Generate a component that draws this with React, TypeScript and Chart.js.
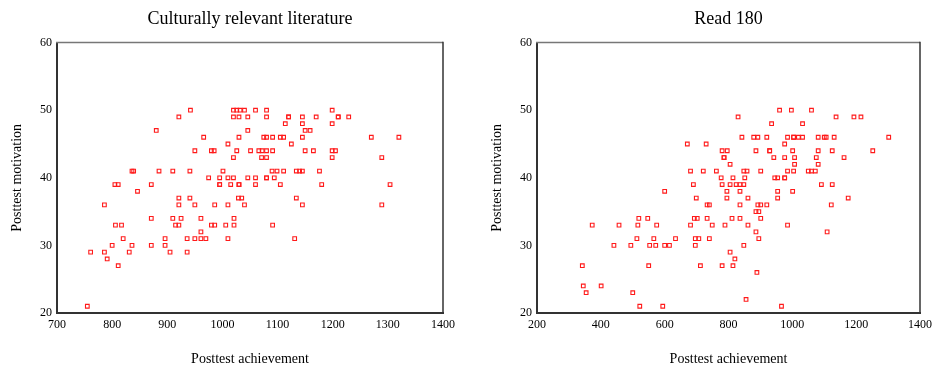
import React, { useEffect, useRef } from "react";
import { Chart, registerables } from "chart.js";

Chart.register(...registerables);

const FONT = "'Liberation Serif', 'Times New Roman', Times, serif";

// Culturally relevant literature: posttest achievement (x) and posttest motivation (y)
const crlAchievement = [
  942, 1020, 1026, 1032, 1040, 1060, 1080, 1199,
  921, 1020, 1030, 1046, 1080, 1120, 1120, 1145, 1170, 1210, 1210, 1229,
  1114, 1145, 1199,
  880, 1046, 1150, 1159,
  966, 1030, 1075, 1080, 1091, 1105, 1111, 1145, 1270, 1320,
  1010, 1125,
  950, 980, 985, 1026, 1051, 1066, 1072, 1080, 1091, 1150, 1165, 1199, 1205,
  1020, 1071, 1080, 1199, 1289,
  836, 839, 885, 910, 941, 1001, 1090, 1099, 1111, 1134, 1140, 1145, 1176,
  975, 995, 1010, 1020, 1046, 1060, 1080, 1080, 1094,
  805, 811, 871, 995, 995, 1015, 1030, 1030, 1060, 1105, 1180, 1304,
  846,
  921, 941, 1029, 1035, 1134,
  786, 921, 950, 986, 1010, 1040, 1145, 1289,
  871, 910, 925, 961, 1021,
  806, 817, 915, 921, 980, 986, 1006, 1021, 1091,
  961,
  820, 896, 936, 950, 961, 970, 1010, 1131,
  800, 836, 871, 896,
  761, 786, 831, 905, 936,
  791,
  811,
  755,
];
const crlMotivation = [
  50, 50, 50, 50, 50, 50, 50, 50,
  49, 49, 49, 49, 49, 49, 49, 49, 49, 49, 49, 49,
  48, 48, 48,
  47, 47, 47, 47,
  46, 46, 46, 46, 46, 46, 46, 46, 46, 46,
  45, 45,
  44, 44, 44, 44, 44, 44, 44, 44, 44, 44, 44, 44, 44,
  43, 43, 43, 43, 43,
  41, 41, 41, 41, 41, 41, 41, 41, 41, 41, 41, 41, 41,
  40, 40, 40, 40, 40, 40, 40, 40, 40,
  39, 39, 39, 39, 39, 39, 39, 39, 39, 39, 39, 39,
  38,
  37, 37, 37, 37, 37,
  36, 36, 36, 36, 36, 36, 36, 36,
  34, 34, 34, 34, 34,
  33, 33, 33, 33, 33, 33, 33, 33, 33,
  32,
  31, 31, 31, 31, 31, 31, 31, 31,
  30, 30, 30, 30,
  29, 29, 29, 29, 29,
  28,
  27,
  21,
];

// Read 180
const r180Achievement = [
  960, 997, 1060,
  830, 1137, 1193, 1215,
  935, 1032,
  842, 879, 892, 920, 985, 1004, 1004, 1019, 1032, 1081, 1100, 1106, 1131, 1302,
  671, 730, 976,
  780, 796, 886, 929, 929, 1001, 1081, 1125, 1252,
  786, 786, 942, 976, 1007, 1075, 1162,
  805, 1007, 1081,
  681, 721, 762, 848, 858, 901, 985, 1004, 1050, 1060, 1072,
  777, 814, 851, 945, 954, 976, 976,
  690, 780, 805, 824, 836, 848, 1091, 1125,
  600, 795, 836, 954, 1001,
  699, 795, 861, 954, 1175,
  733, 740, 836, 892, 901, 920, 1122,
  886, 895,
  519, 547, 693, 702, 733, 811, 836, 901,
  373, 457, 516, 575, 681, 749, 789, 861, 985,
  886, 1109,
  513, 566, 634, 696, 707, 740, 895,
  441, 494, 553, 572, 600, 615, 696, 848,
  805,
  820,
  342, 550, 712, 780, 814,
  889,
  345, 401,
  354, 500,
  855,
  522, 594, 966,
];
const r180Motivation = [
  50, 50, 50,
  49, 49, 49, 49,
  48, 48,
  46, 46, 46, 46, 46, 46, 46, 46, 46, 46, 46, 46, 46, 46,
  45, 45, 45,
  44, 44, 44, 44, 44, 44, 44, 44, 44,
  43, 43, 43, 43, 43, 43, 43,
  42, 42, 42,
  41, 41, 41, 41, 41, 41, 41, 41, 41, 41, 41,
  40, 40, 40, 40, 40, 40, 40,
  39, 39, 39, 39, 39, 39, 39, 39,
  38, 38, 38, 38, 38,
  37, 37, 37, 37, 37,
  36, 36, 36, 36, 36, 36, 36,
  35, 35,
  34, 34, 34, 34, 34, 34, 34, 34,
  33, 33, 33, 33, 33, 33, 33, 33, 33,
  32, 32,
  31, 31, 31, 31, 31, 31, 31,
  30, 30, 30, 30, 30, 30, 30, 30,
  29,
  28,
  27, 27, 27, 27, 27,
  26,
  24, 24,
  23, 23,
  22,
  21, 21, 21,
];

const yTicks = [20, 30, 40, 50, 60];
const crlXTicks = [700, 800, 900, 1000, 1100, 1200, 1300, 1400];
const r180XTicks = [200, 400, 600, 800, 1000, 1200, 1400];

const framePlugin = {
  id: "frame",
  beforeDatasetsDraw(chart: any) {
    const { ctx, chartArea } = chart;
    const { left, top, right, bottom } = chartArea;
    ctx.save();
    ctx.lineWidth = 1.5;
    ctx.strokeStyle = "#777";
    ctx.beginPath();
    ctx.moveTo(left - 1, top);
    ctx.lineTo(right, top);
    ctx.stroke();
    ctx.strokeStyle = "#333";
    ctx.beginPath();
    ctx.moveTo(right, top - 0.75);
    ctx.lineTo(right, bottom + 1);
    ctx.stroke();
    ctx.restore();
  },
};

function ScatterPanel(props: {
  title: string;
  xs: number[];
  ys: number[];
  xTicks: number[];
  width: number;
  padRight: number;
}) {
  const ref = useRef<HTMLCanvasElement | null>(null);
  useEffect(() => {
    if (!ref.current) return;
    const pts = props.xs.map((x, i) => ({ x, y: props.ys[i] }));
    const xt = props.xTicks;
    const chart = new Chart(ref.current, {
      type: "scatter",
      data: {
        datasets: [
          {
            data: pts,
            pointStyle: "rect",
            pointRadius: 2.6,
            pointHoverRadius: 2.6,
            borderColor: "#ff1a1a",
            backgroundColor: "rgba(255,255,255,0)",
            borderWidth: 1.1,
          },
        ],
      },
      options: {
        animation: false,
        responsive: false,
        events: [],
        layout: { padding: { left: 0, right: props.padRight, top: 0, bottom: 0 } },
        plugins: {
          legend: { display: false },
          tooltip: { enabled: false },
          title: {
            display: true,
            text: props.title,
            fullSize: false,
            color: "#000",
            font: { family: FONT, size: 18, weight: "normal" },
            padding: { top: 8, bottom: 13 },
          },
        },
        scales: {
          x: {
            type: "linear",
            min: xt[0],
            max: xt[xt.length - 1],
            afterBuildTicks: (s: any) => {
              s.ticks = xt.map((v) => ({ value: v }));
            },
            afterFit: (s: any) => {
              s.height = 55;
            },
            ticks: {
              color: "#000",
              font: { family: FONT, size: 12 },
              padding: 5,
              maxRotation: 0,
              autoSkip: false,
              callback: (v: any) => String(v),
            },
            grid: { display: false, drawTicks: false },
            border: { display: true, color: "#333", width: 2 },
            title: {
              display: true,
              text: "Posttest achievement",
              color: "#000",
              font: { family: FONT, size: 14 },
              padding: { top: 0, bottom: 0 },
            },
          },
          y: {
            type: "linear",
            min: yTicks[0],
            max: yTicks[yTicks.length - 1],
            afterBuildTicks: (s: any) => {
              s.ticks = yTicks.map((v) => ({ value: v }));
            },
            afterFit: (s: any) => {
              s.width = 57;
            },
            ticks: {
              color: "#000",
              font: { family: FONT, size: 12 },
              padding: 5,
              autoSkip: false,
              callback: (v: any) => String(v),
            },
            grid: { display: false, drawTicks: false },
            border: { display: true, color: "#333", width: 2 },
            title: {
              display: true,
              text: "Posttest motivation",
              color: "#000",
              font: { family: FONT, size: 14 },
              padding: { top: 9, bottom: 0 },
            },
          },
        },
      } as any,
      plugins: [framePlugin],
    });
    return () => chart.destroy();
  }, []);
  return <canvas ref={ref} width={props.width} height={368} style={{ display: "block" }} />;
}

export default function App() {
  return (
    <div
      style={{
        position: "absolute",
        left: 0,
        top: 0,
        width: 937,
        height: 368,
        background: "#fff",
        overflow: "hidden",
      }}
    >
      <div style={{ position: "absolute", left: 0, top: 0 }}>
        <ScatterPanel
          title="Culturally relevant literature"
          xs={crlAchievement}
          ys={crlMotivation}
          xTicks={crlXTicks}
          width={460}
          padRight={15}
        />
      </div>
      <div style={{ position: "absolute", left: 480, top: 0 }}>
        <ScatterPanel
          title="Read 180"
          xs={r180Achievement}
          ys={r180Motivation}
          xTicks={r180XTicks}
          width={457}
          padRight={12}
        />
      </div>
    </div>
  );
}
